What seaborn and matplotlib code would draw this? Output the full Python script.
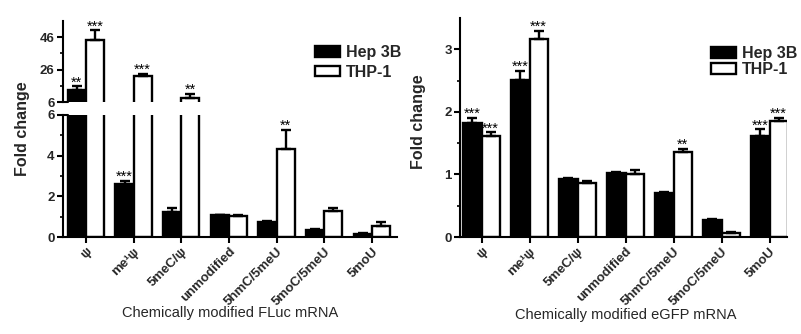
import numpy as np
import pandas as pd
import matplotlib
matplotlib.use("Agg")
import matplotlib.pyplot as plt
from matplotlib.ticker import FixedLocator
import seaborn as sns

sns.set_style("ticks")
plt.rcParams['font.family'] = ['Liberation Sans', 'DejaVu Sans']

# ---------------- data ----------------
categories = ["ψ", "me¹ψ", "5meC/ψ", "unmodified", "5hmC/5meU", "5moC/5meU", "5moU"]
cells = ["Hep 3B", "THP-1"]

fluc_hep = [13.2, 2.6, 1.25, 1.06, 0.72, 0.36, 0.16]
fluc_hep_err = [2.5, 0.16, 0.17, 0.03, 0.05, 0.03, 0.03]
fluc_thp = [44.0, 22.0, 8.6, 1.04, 4.31, 1.26, 0.53]
fluc_thp_err = [6.2, 1.2, 2.2, 0.03, 0.95, 0.16, 0.21]
fluc_hep_sig = ["**", "***", "", "", "", "", ""]
fluc_thp_sig = ["***", "***", "**", "", "**", "", ""]

egfp_hep = [1.82, 2.51, 0.93, 1.02, 0.70, 0.27, 1.62]
egfp_hep_err = [0.08, 0.14, 0.02, 0.02, 0.02, 0.01, 0.10]
egfp_thp = [1.61, 3.17, 0.86, 1.00, 1.35, 0.07, 1.86]
egfp_thp_err = [0.06, 0.12, 0.04, 0.07, 0.06, 0.01, 0.04]
egfp_hep_sig = ["***", "***", "", "", "", "", "***"]
egfp_thp_sig = ["***", "***", "", "", "**", "", "***"]

fluc_xlabel = "Chemically modified FLuc mRNA"
egfp_xlabel = "Chemically modified eGFP mRNA"
ylabel = "Fold change"


def long_df(hep, thp):
    return pd.DataFrame({
        "mod": categories * 2,
        "fc": list(hep) + list(thp),
        "cell": [cells[0]] * len(categories) + [cells[1]] * len(categories),
    })


LW = 1.7


def draw_bars(ax, df):
    sns.barplot(data=df, x="mod", y="fc", hue="cell", order=categories,
                hue_order=cells, palette=["black", "white"], saturation=1,
                edgecolor="black", linewidth=LW, width=0.76, errorbar=None,
                ax=ax, legend=True)
    hep_x, thp_x = [], []
    for p in ax.patches:
        if p.get_width() < 0.1:
            continue
        cx = p.get_x() + p.get_width() / 2
        if p.get_facecolor()[0] < 0.5:
            hep_x.append(cx)
        else:
            thp_x.append(cx)
    return sorted(hep_x)[:len(categories)], sorted(thp_x)[:len(categories)]


def draw_err(ax, xs, vals, errs, lo=-np.inf, hi=np.inf):
    xs = np.asarray(xs)
    vals = np.asarray(vals)
    errs = np.asarray(errs)
    tops = vals + errs
    m = (tops > lo) & (vals < hi)
    if not m.any():
        return
    ax.errorbar(xs[m], vals[m], yerr=[np.zeros(m.sum()), errs[m]], fmt="none",
                ecolor="black", elinewidth=LW, capsize=3.5, capthick=LW, zorder=3)


def style_axis(ax):
    for s in ["left", "bottom"]:
        ax.spines[s].set_linewidth(1.5)
        ax.spines[s].set_color("black")
    ax.tick_params(axis="both", which="major", length=4, width=1.5,
                   direction="out", labelsize=9.5, color="black", pad=2)
    ax.tick_params(axis="both", which="minor", length=2.5, width=1.2,
                   direction="out", color="black")
    for t in ax.get_yticklabels():
        t.set_fontweight("bold")


fig = plt.figure(figsize=(8.01, 3.34), dpi=100)
axT = fig.add_axes([0.0787, 0.6946, 0.417, 0.2425])
axB = fig.add_axes([0.0787, 0.2904, 0.417, 0.3653])
axR = fig.add_axes([0.5743, 0.2904, 0.408, 0.656])

# ---------- left panel (broken axis) ----------
dfL = long_df(fluc_hep, fluc_thp)
hx, tx = draw_bars(axT, dfL)
draw_err(axT, hx, fluc_hep, fluc_hep_err, lo=6)
draw_err(axT, tx, fluc_thp, fluc_thp_err, lo=6)
hx, tx = draw_bars(axB, dfL)
draw_err(axB, hx, fluc_hep, fluc_hep_err, hi=6)
draw_err(axB, tx, fluc_thp, fluc_thp_err, hi=6)
for ax in (axT, axB):
    ax.set_xlim(-0.48, 6.53)
    ax.set_xlabel("")
    ax.set_ylabel("")

handlesL, labelsL = axB.get_legend_handles_labels()
axT.get_legend().remove()
axB.get_legend().remove()

axT.set_ylim(6, 56)
axT.yaxis.set_major_locator(FixedLocator([6, 26, 46]))
axT.yaxis.set_minor_locator(FixedLocator([16, 36]))
axT.set_xticks([])
axB.set_ylim(0, 6)
axB.yaxis.set_major_locator(FixedLocator([0, 2, 4, 6]))
axB.yaxis.set_minor_locator(FixedLocator([1, 3, 5]))

sns.despine(ax=axT, top=True, right=True, bottom=True)
sns.despine(ax=axB, top=True, right=True)
style_axis(axT)
style_axis(axB)

# break markers
axT.plot([0, 0.014], [0, 0], transform=axT.transAxes, color="black", lw=1.5,
         clip_on=False, zorder=10)
axB.plot([0, 0.014], [1, 1], transform=axB.transAxes, color="black", lw=1.5,
         clip_on=False, zorder=10)

# significance stars left
for xs, vals, errs, sig in ((hx, fluc_hep, fluc_hep_err, fluc_hep_sig),
                            (tx, fluc_thp, fluc_thp_err, fluc_thp_sig)):
    for x, v, e, s in zip(xs, vals, errs, sig):
        if not s:
            continue
        top = v + e
        ax = axT if top > 6 else axB
        ax.text(x, top, s, ha="center", va="baseline", fontsize=10.5, color="black")

axB.set_xticks(range(len(categories)))
axB.set_xticklabels(categories, rotation=45, ha="right", va="top",
                    rotation_mode="anchor", fontsize=9.5, fontweight="bold")

axB.legend(handlesL, labelsL, loc="upper left", bbox_to_anchor=(315 / 801, 1 - 45 / 334),
           bbox_transform=fig.transFigure, frameon=False,
           prop={"weight": "bold", "size": 11.5}, handlelength=1.55, handleheight=0.62,
           handletextpad=0.4, labelspacing=0.3, borderpad=0, borderaxespad=0)

# ---------- right panel ----------
dfR = long_df(egfp_hep, egfp_thp)
hxR, txR = draw_bars(axR, dfR)
draw_err(axR, hxR, egfp_hep, egfp_hep_err)
draw_err(axR, txR, egfp_thp, egfp_thp_err)
handlesR, labelsR = axR.get_legend_handles_labels()
axR.get_legend().remove()
axR.set_xlim(-0.45, 6.36)
axR.set_ylim(0, 3.5)
axR.yaxis.set_major_locator(FixedLocator([0, 1, 2, 3]))
axR.yaxis.set_minor_locator(FixedLocator([0.5, 1.5, 2.5]))
axR.set_xlabel("")
axR.set_ylabel("")
sns.despine(ax=axR, top=True, right=True)
style_axis(axR)
axR.set_xticks(range(len(categories)))
axR.set_xticklabels(categories, rotation=45, ha="right", va="top",
                    rotation_mode="anchor", fontsize=9.5, fontweight="bold")

for xs, vals, errs, sig in ((hxR, egfp_hep, egfp_hep_err, egfp_hep_sig),
                            (txR, egfp_thp, egfp_thp_err, egfp_thp_sig)):
    for x, v, e, s in zip(xs, vals, errs, sig):
        if s:
            axR.text(x, v + e, s, ha="center", va="baseline", fontsize=10.5, color="black")

axR.legend(handlesR, labelsR, loc="upper left", bbox_to_anchor=(711 / 801, 1 - 46 / 334),
           bbox_transform=fig.transFigure, frameon=False,
           prop={"weight": "bold", "size": 11.5}, handlelength=1.55, handleheight=0.62,
           handletextpad=0.4, labelspacing=0.08, borderpad=0, borderaxespad=0)

# ---------- axis titles ----------
fig.text(23 / 801, 1 - 129 / 334, ylabel, rotation=90, ha="center", va="center",
         fontsize=11.5, fontweight="bold")
fig.text(419 / 801, 1 - 122 / 334, ylabel, rotation=90, ha="center", va="center",
         fontsize=11.5, fontweight="bold")
fig.text(230 / 801, 1 - 313 / 334, fluc_xlabel, ha="center", va="center", fontsize=10.5)
fig.text(626 / 801, 1 - 315 / 334, egfp_xlabel, ha="center", va="center", fontsize=10.5)

fig.savefig("out.png", dpi=100)
